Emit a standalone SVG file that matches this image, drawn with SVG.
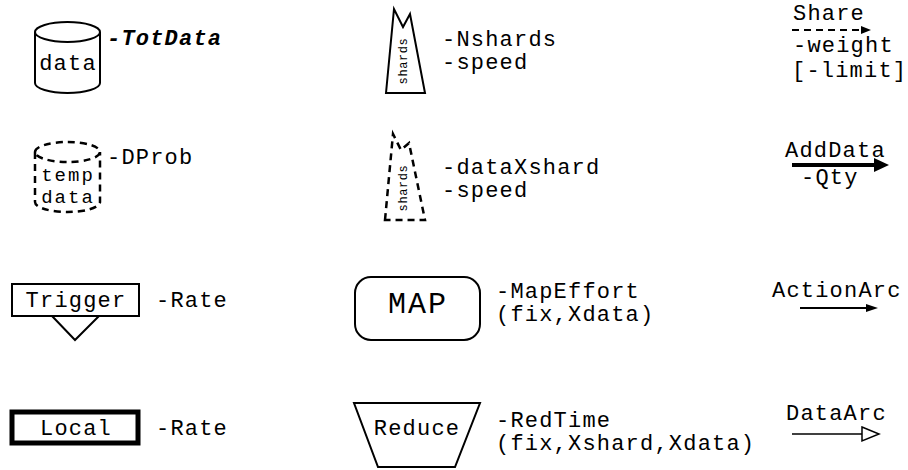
<svg xmlns="http://www.w3.org/2000/svg" width="908" height="470" viewBox="0 0 908 470">
  <defs>
    <style>
      .t { font-family: "Liberation Mono", "Courier New", monospace; font-size: 22px; letter-spacing: 1.2px; fill: #000; }
      .mid { text-anchor: middle; }
      .small { font-size: 12px; letter-spacing: 0.6px; }
      .cyl { font-size: 19px; letter-spacing: 2px; }
      .ln { fill: none; stroke: #000; stroke-width: 2; }
      .dash { fill: none; stroke: #000; stroke-width: 2.5; stroke-dasharray: 7 5; }
    </style>
  </defs>
  <rect width="908" height="470" fill="#fff"/>

  <!-- persistent data store -->
  <g id="data-store">
    <path class="ln" d="M35,32 A32.5,10 0 0 1 100,32 A32.5,10 0 0 1 35,32 Z M35,32 V83 A32.5,10 0 0 0 100,83 V32"/>
    <text class="t mid" x="68" y="70">data</text>
    <text class="t" x="107" y="45" font-weight="bold" font-style="italic">-TotData</text>
  </g>

  <!-- shards -->
  <g id="shards">
    <polygon class="ln" points="386,93 394,9 403,27 410,14 425,93"/>
    <text class="t small mid" transform="translate(407,61) rotate(-90)">shards</text>
    <text class="t" x="442" y="46">-Nshards</text>
    <text class="t" x="442" y="69">-speed</text>
  </g>

  <!-- temporary data store -->
  <g id="temp-data">
    <path class="dash" d="M35,152 A32.5,10 0 0 1 100,152 A32.5,10 0 0 1 35,152 Z M35,152 V202 A32.5,10 0 0 0 100,202 V152"/>
    <text class="t cyl mid" x="68" y="181">temp</text>
    <text class="t cyl mid" x="68" y="203">data</text>
    <text class="t" x="107" y="164">-DProb</text>
  </g>

  <!-- temporary shards -->
  <g id="temp-shards">
    <polygon class="dash" points="385,220 393,134 401,150 409,143 425,220" stroke-width="3"/>
    <text class="t small mid" transform="translate(407,188) rotate(-90)">shards</text>
    <text class="t" x="442" y="174">-dataXshard</text>
    <text class="t" x="442" y="197">-speed</text>
  </g>

  <!-- trigger -->
  <g id="trigger">
    <rect class="ln" x="12" y="284" width="127" height="32"/>
    <polyline class="ln" points="52,316 75,340 99,316"/>
    <text class="t mid" x="76" y="307">Trigger</text>
    <text class="t" x="156" y="307">-Rate</text>
  </g>

  <!-- map -->
  <g id="map">
    <rect class="ln" x="355" y="277" width="125" height="63" rx="16"/>
    <text class="t mid" x="418" y="313" style="font-size:30px;letter-spacing:2px">MAP</text>
    <text class="t" x="496" y="298">-MapEffort</text>
    <text class="t" x="496" y="321">(fix,Xdata)</text>
  </g>

  <!-- local -->
  <g id="local">
    <rect x="12" y="412" width="126" height="31" fill="none" stroke="#000" stroke-width="5"/>
    <text class="t mid" x="76" y="435">Local</text>
    <text class="t" x="156" y="435">-Rate</text>
  </g>

  <!-- reduce -->
  <g id="reduce">
    <polygon class="ln" points="354,403 480,403 455,467 378,467"/>
    <text class="t mid" x="417" y="435">Reduce</text>
    <text class="t" x="496" y="427">-RedTime</text>
    <text class="t" x="496" y="450">(fix,Xshard,Xdata)</text>
  </g>

  <!-- arc legend -->
  <g id="connectors">
    <g id="share">
      <line x1="792" y1="30" x2="862" y2="30" fill="none" stroke="#000" stroke-width="2" stroke-dasharray="7 5"/>
      <polygon points="861,26 871,30 861,34" fill="#000"/>
      <text class="t" x="793" y="20">Share</text>
      <text class="t" x="793" y="52">-weight</text>
      <text class="t" x="792" y="77">[-limit]</text>
    </g>
    <g id="add-data">
      <line x1="792" y1="165" x2="876" y2="165" stroke="#000" stroke-width="4"/>
      <polygon points="874,158 889,165 874,172" fill="#000"/>
      <text class="t" x="785" y="157">AddData</text>
      <text class="t" x="801" y="184">-Qty</text>
    </g>
    <g id="action-arc">
      <line x1="800" y1="308" x2="868" y2="308" stroke="#000" stroke-width="2"/>
      <polygon points="866,304 878,308 866,312" fill="#000"/>
      <text class="t" x="772" y="297">ActionArc</text>
    </g>
    <g id="data-arc">
      <line x1="792" y1="434" x2="862" y2="434" stroke="#000" stroke-width="1.5"/>
      <polygon points="862,427 879,434 862,441" fill="#fff" stroke="#000" stroke-width="1.5"/>
      <text class="t" x="786" y="420">DataArc</text>
    </g>
  </g>
</svg>
